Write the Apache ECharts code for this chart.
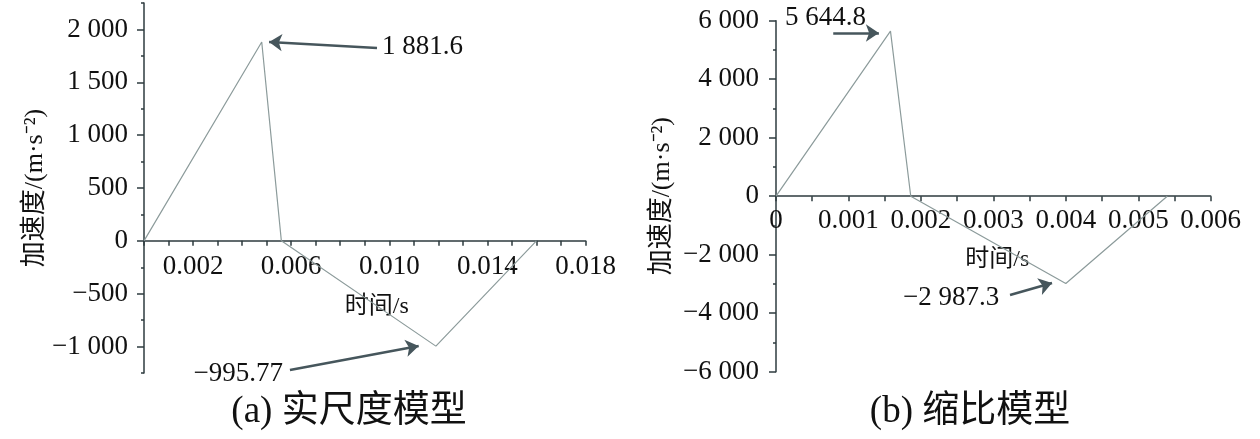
<!DOCTYPE html>
<html>
<head>
<meta charset="utf-8">
<script src="https://cdn.jsdelivr.net/npm/echarts@6/dist/echarts.min.js"></script>
<style>
  html, body { margin: 0; padding: 0; background: #fff; }
  #main { width: 1260px; height: 439px; }
</style>
</head>
<body>
<div id="main"></div>
<script>
// (a) 实尺度模型
var timeA = [0, 0.0048, 0.0056, 0.0119, 0.016];
var accA = [0, 1881.6, 0, -995.77, 0];
// (b) 缩比模型
var timeB = [0, 0.00158, 0.00186, 0.0040, 0.0054];
var accB = [0, 5644.8, 0, -2987.3, 0];

// 刻度标签
var xLabelsA = [0.002, 0.006, 0.010, 0.014, 0.018];
var yLabelsA = [-1000, -500, 0, 500, 1000, 1500, 2000];
var yMinorA = [-1250, -750, -250, 250, 750, 1250, 1750, 2250];
var xLabelsB = [0, 0.001, 0.002, 0.003, 0.004, 0.005, 0.006];

var yRangeA = [-1250, 2250];
var yRangeB = [-6000, 6000];

var serif = "'Liberation Serif', 'Noto Sans CJK SC', serif";
var axisColor = '#2e3b3f';
var lineColor = '#8c9b9b';
var arrowColor = '#46565c';

var gridA = { left: 144, top: 3, width: 441.5, height: 370, outerBoundsMode: 'none' };
var gridB = { left: 776, top: 20.7, width: 434.7, height: 351, outerBoundsMode: 'none' };

function fmtNum(v) {
  var s = Math.abs(v).toString().replace(/\B(?=(\d{3})+(?!\d))/g, ' ');
  return (v < 0 ? '\u2212' : '') + s;
}
function fmtTime(v) {
  return v === 0 ? '0' : v.toFixed(3);
}
function pairs(xs, ys) {
  return xs.map(function (x, i) { return [x, ys[i]]; });
}
// x轴放在 y=0 处（标签一起移动）
function zeroOffset(grid, range) {
  return -grid.height * (0 - range[0]) / (range[1] - range[0]);
}

var chart = echarts.init(document.getElementById('main'));

var baseLabel = { color: '#111', fontFamily: serif, fontSize: 27 };
var nameStyle = { color: '#111', fontFamily: serif, fontSize: 24 };

var option = {
  animation: false,
  grid: [gridA, gridB],
  xAxis: [
    {
      gridIndex: 0, type: 'value', min: 0, max: 0.018, interval: 0.001,
      position: 'bottom', offset: zeroOffset(gridA, yRangeA),
      name: '时间/s', nameLocation: 'middle', nameGap: 54,
      nameTextStyle: Object.assign({ padding: [0, 0, 0, 24] }, nameStyle),
      axisLine: { onZero: false, lineStyle: { color: axisColor, width: 1.5 } },
      axisTick: { length: 5, lineStyle: { color: axisColor, width: 1.5 } },
      axisLabel: Object.assign({ customValues: xLabelsA, margin: 13, formatter: fmtTime }, baseLabel),
      splitLine: { show: false }
    },
    {
      gridIndex: 1, type: 'value', min: 0, max: 0.006, interval: 0.0005,
      position: 'bottom', offset: zeroOffset(gridB, yRangeB),
      name: '时间/s', nameLocation: 'middle', nameGap: 52,
      nameTextStyle: Object.assign({ padding: [0, 0, 0, 8] }, nameStyle),
      axisLine: { onZero: false, lineStyle: { color: axisColor, width: 1.5 } },
      axisTick: { length: 5, lineStyle: { color: axisColor, width: 1.5 } },
      axisLabel: Object.assign({ customValues: xLabelsB, margin: 11, formatter: fmtTime }, baseLabel),
      splitLine: { show: false }
    }
  ],
  yAxis: [
    {
      gridIndex: 0, type: 'value', min: yRangeA[0], max: yRangeA[1], position: 'left',
      name: '加速度/(m·s⁻²)', nameLocation: 'middle', nameGap: 90,
      nameTextStyle: Object.assign({}, nameStyle, { fontSize: 26 }),
      axisLine: { show: true, onZero: false, lineStyle: { color: axisColor, width: 1.5 } },
      axisTick: { show: true, customValues: yLabelsA, length: 7, lineStyle: { color: axisColor, width: 1.5 } },
      axisLabel: Object.assign({ customValues: yLabelsA, margin: 16, formatter: fmtNum }, baseLabel),
      splitLine: { show: false }
    },
    {
      // 次刻度
      gridIndex: 0, type: 'value', min: yRangeA[0], max: yRangeA[1], position: 'left',
      axisLine: { show: false, onZero: false },
      axisTick: { show: true, customValues: yMinorA, length: 3, lineStyle: { color: axisColor, width: 1.5 } },
      axisLabel: { show: false },
      splitLine: { show: false }
    },
    {
      gridIndex: 1, type: 'value', min: yRangeB[0], max: yRangeB[1], interval: 2000, position: 'left',
      name: '加速度/(m·s⁻²)', nameLocation: 'middle', nameGap: 101,
      nameTextStyle: Object.assign({}, nameStyle, { fontSize: 26 }),
      axisLine: { show: true, onZero: false, lineStyle: { color: axisColor, width: 1.5 } },
      axisTick: { show: true, length: 7, lineStyle: { color: axisColor, width: 1.5 } },
      minorTick: { show: true, splitNumber: 2, length: 3, lineStyle: { color: axisColor, width: 1.5 } },
      axisLabel: Object.assign({ margin: 17, formatter: fmtNum }, baseLabel),
      splitLine: { show: false }
    }
  ],
  series: [
    {
      type: 'line', xAxisIndex: 0, yAxisIndex: 0,
      data: pairs(timeA, accA), symbol: 'none',
      lineStyle: { color: lineColor, width: 1.2 },
      markLine: {
        silent: true, symbol: ['none', 'arrow'], symbolSize: 13,
        label: { show: false },
        lineStyle: { color: arrowColor, width: 2.5, type: 'solid' },
        data: [
          [{ coord: [0.0095, 1825] }, { coord: [0.0051, 1881.6] }],
          [{ coord: [0.00595, -1221] }, { coord: [0.0112, -994] }]
        ]
      }
    },
    {
      type: 'line', xAxisIndex: 1, yAxisIndex: 2,
      data: pairs(timeB, accB), symbol: 'none',
      lineStyle: { color: lineColor, width: 1.2 },
      markLine: {
        silent: true, symbol: ['none', 'arrow'], symbolSize: 13,
        label: { show: false },
        lineStyle: { color: arrowColor, width: 2.5, type: 'solid' },
        data: [
          [{ coord: [0.00079, 5579] }, { coord: [0.00142, 5579] }],
          [{ coord: [0.00323, -3378] }, { coord: [0.00381, -2968] }]
        ]
      }
    }
  ],
  graphic: [
    { type: 'text', x: 382, y: 47, style: { text: fmtNum(1881.6), font: '27px ' + serif, fill: '#111', textVerticalAlign: 'middle' } },
    { type: 'text', x: 283, y: 374, style: { text: '\u2212995.77', font: '27px ' + serif, fill: '#111', textAlign: 'right', textVerticalAlign: 'middle' } },
    { type: 'text', x: 785, y: 18, style: { text: '5 644.8', font: '27px ' + serif, fill: '#111', textVerticalAlign: 'middle' } },
    { type: 'text', x: 903, y: 298, style: { text: '\u22122 987.3', font: '27px ' + serif, fill: '#111', textVerticalAlign: 'middle' } },
    { type: 'text', x: 349, y: 412, style: { text: '(a) 实尺度模型', font: '37px ' + serif, fill: '#111', textAlign: 'center', textVerticalAlign: 'middle' } },
    { type: 'text', x: 970, y: 412, style: { text: '(b) 缩比模型', font: '37px ' + serif, fill: '#111', textAlign: 'center', textVerticalAlign: 'middle' } }
  ]
};

chart.setOption(option);
</script>
</body>
</html>
